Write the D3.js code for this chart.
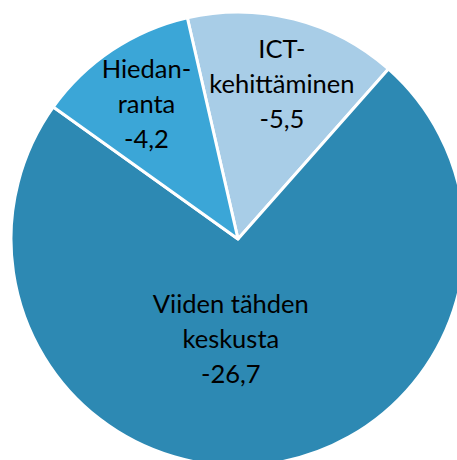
<!DOCTYPE html>
<html><head><meta charset="utf-8">
<script src="https://cdn.jsdelivr.net/npm/d3@7"></script>
<style>html,body{margin:0;padding:0;background:#fff;}svg{display:block;}</style>
</head><body>
<script>
// Data (clockwise order as drawn)
const categories = ["ICT-kehittäminen", "Viiden tähden keskusta", "Hiedanranta"];
const labelLines = [["ICT-", "kehittäminen"], ["Viiden tähden", "keskusta"], ["Hiedan-", "ranta"]];
const values = [-5.5, -26.7, -4.2];
const colors = ["#A8CDE7", "#2D89B3", "#3BA6D7"];

const W = 457, H = 460;
const cx = 238, cy = 239, R = 227;
const startDeg = -12.9;
const labelRadius = [0.71, 0.44, 0.72];
const labelAngleShift = [1.5, 10.6, -0.4];

const svg = d3.select("body").append("svg").attr("width", W).attr("height", H);
const g = svg.append("g").attr("transform", `translate(${cx},${cy})`);

const pie = d3.pie().sort(null).value(d => Math.abs(d))
  .startAngle(startDeg * Math.PI / 180).endAngle((startDeg + 360) * Math.PI / 180);
const arcs = pie(values);
const arc = d3.arc().innerRadius(0).outerRadius(R);

g.selectAll("path").data(arcs).join("path")
  .attr("d", arc)
  .attr("fill", (d, i) => colors[i])
  .attr("stroke", "#fff").attr("stroke-width", 3).attr("stroke-linejoin", "round");

const fmt = v => String(v).replace(".", ",");
const fs = 25.5, lh = 35;
arcs.forEach((d, i) => {
  const mid = (d.startAngle + d.endAngle) / 2 + labelAngleShift[i] * Math.PI / 180;
  const r = R * labelRadius[i];
  const x = r * Math.sin(mid), y = -r * Math.cos(mid);
  const lines = [...labelLines[i], fmt(values[i])];
  const t = g.append("text").attr("text-anchor", "middle")
    .attr("font-family", "Lato, 'Open Sans', sans-serif").attr("font-size", fs).attr("fill", "#000");
  lines.forEach((s, k) => {
    t.append("tspan").attr("x", x).attr("y", y + (k - (lines.length - 1) / 2) * lh + fs * 0.35).text(s);
  });
});
</script>
</body></html>
